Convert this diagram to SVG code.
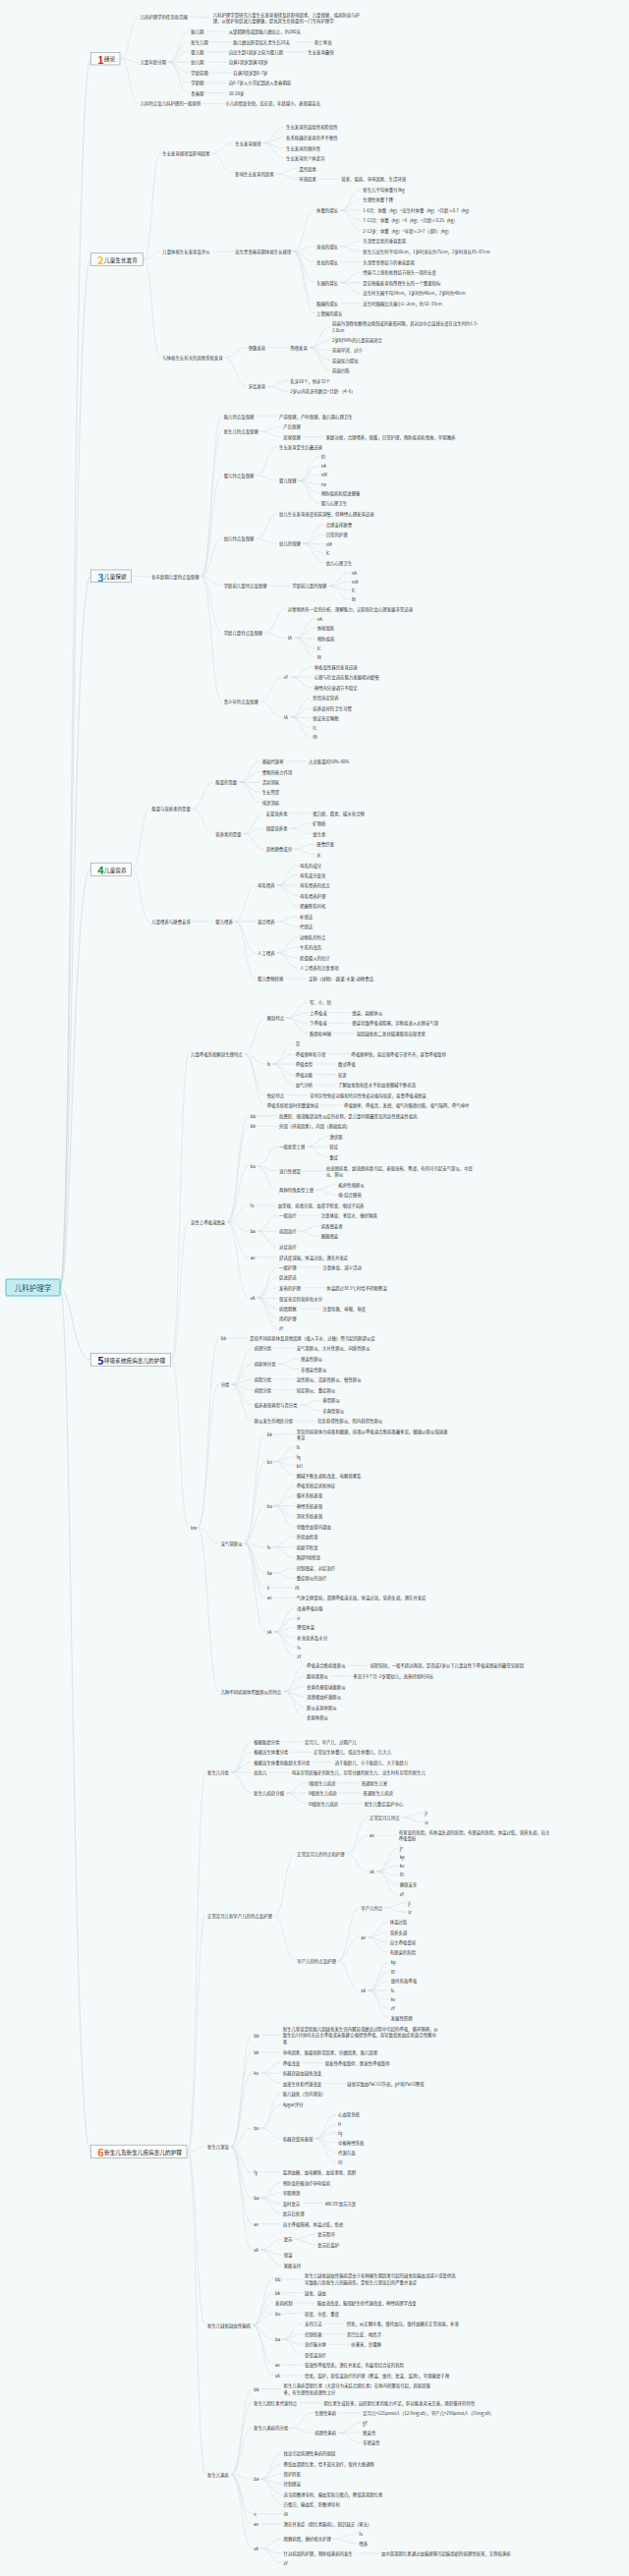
<svg xmlns="http://www.w3.org/2000/svg" width="640" height="2622" viewBox="0 0 640 2622">
<style>
text{font-family:"Noto Sans CJK SC","Noto Sans",sans-serif;font-size:4.4px;fill:#353535;dominant-baseline:central}
#connectors path{fill:none;stroke:#d0dadd;stroke-width:0.5}
#connectors .r{stroke:#c9d4d7;stroke-width:0.6}
.tb rect{fill:#f9fbfc;stroke:#9ea4a7;stroke-width:0.7}
.tt{font-size:5.65px;fill:#2a2a2a}
.num{font-size:11px;font-weight:bold}
</style>
<rect width="640" height="2622" fill="#f4f9fa"/>
<g id="connectors">
<path class="r" d="M61 1310.5C73 1310.5 74 59.7 92.3 59.7"/>
<path class="r" d="M61 1310.5C73 1310.5 74 264 92.3 264"/>
<path class="r" d="M61 1310.5C73 1310.5 74 586.3 92.3 586.3"/>
<path class="r" d="M61 1310.5C73 1310.5 74 885 92.3 885"/>
<path class="r" d="M61 1310.5C73 1310.5 74 1383.8 92.3 1383.8"/>
<path class="r" d="M61 1310.5C73 1310.5 74 2190 92.3 2190"/>
<path d="M123 59.7C132 59.7 132 17.3 140.7 17.3M123 59.7C132 59.7 132 63.3 140.7 63.3M123 59.7C132 59.7 132 105.3 140.7 105.3"/>
<path d="M193.1 17.3C204 17.3 204 18 214.7 18"/>
<path d="M171.1 63.3C181.7 63.3 181.7 32 192.3 32M171.1 63.3C181.7 63.3 181.7 42.7 192.3 42.7M171.1 63.3C181.7 63.3 181.7 52.7 192.3 52.7M171.1 63.3L192.3 63.3M171.1 63.3C181.7 63.3 181.7 74 192.3 74M171.1 63.3C181.7 63.3 181.7 84.3 192.3 84.3M171.1 63.3C181.7 63.3 181.7 94.7 192.3 94.7"/>
<path d="M209.5 32H230.7M213.9 42.7H235.3M301.4 42.7H318M209.5 52.7H230.7M290 52.7H311.3M209.5 63.3H230.7M213.9 74H235.3M209.5 84.3H230.7M209.5 94.7H230.7M206.3 105.3H227.3"/>
<path d="M146.3 264C154.8 264 154.8 156 163.3 156M146.3 264C154.8 264 154.8 256 163.3 256M146.3 264C154.8 264 154.8 364 163.3 364"/>
<path d="M215.7 156C226.5 156 226.5 145.7 237.3 145.7M215.7 156C226.5 156 226.5 177 237.3 177"/>
<path d="M267.7 145.7C278.4 145.7 278.4 129.3 289 129.3M267.7 145.7C278.4 145.7 278.4 140 289 140M267.7 145.7C278.4 145.7 278.4 150.7 289 150.7M267.7 145.7C278.4 145.7 278.4 161.3 289 161.3"/>
<path d="M280.9 177C291.6 177 291.6 171.7 302.3 171.7M280.9 177C291.6 177 291.6 182.3 302.3 182.3M323.9 182.3H345.3"/>
<path d="M215.7 256H237.3"/>
<path d="M298.5 256C309.3 256 309.3 214 320 214M298.5 256C309.3 256 309.3 250.7 320 250.7M298.5 256C309.3 256 309.3 266.7 320 266.7M298.5 256C309.3 256 309.3 287.7 320 287.7M298.5 256C309.3 256 309.3 308.7 320 308.7M298.5 256C309.3 256 309.3 319 320 319"/>
<path d="M346 214C356.7 214 356.7 192.7 367.3 192.7M346 214C356.7 214 356.7 203 367.3 203M346 214H367.3M346 214C356.7 214 356.7 224.3 367.3 224.3M346 214C356.7 214 356.7 235 367.3 235"/>
<path d="M346 250.7C356.7 250.7 356.7 245.3 367.3 245.3M346 250.7C356.7 250.7 356.7 256 367.3 256M346 266.7H367.3"/>
<path d="M346 287.7C356.7 287.7 356.7 277 367.3 277M346 287.7H367.3M346 287.7C356.7 287.7 356.7 298.3 367.3 298.3M346 308.7H367.3"/>
<path d="M228.9 364C239.8 364 239.8 353.7 250.7 353.7M228.9 364C239.8 364 239.8 393.3 250.7 393.3M272.3 353.7H293.3"/>
<path d="M314.9 353.7C325.5 353.7 325.5 332.5 336 332.5M314.9 353.7C325.5 353.7 325.5 346 336 346M314.9 353.7C325.5 353.7 325.5 356.3 336 356.3M314.9 353.7C325.5 353.7 325.5 366.7 336 366.7M314.9 353.7C325.5 353.7 325.5 377.3 336 377.3"/>
<path d="M272.3 393.3C282.8 393.3 282.8 387.7 293.3 387.7M272.3 393.3C282.8 393.3 282.8 398.3 293.3 398.3"/>
<path d="M134.3 586.3C143.3 586.3 143.3 586.7 152.3 586.7"/>
<path d="M204.7 586.7C215.2 586.7 215.2 423.7 225.7 423.7M204.7 586.7C215.2 586.7 215.2 439.3 225.7 439.3M204.7 586.7C215.2 586.7 215.2 484 225.7 484M204.7 586.7C215.2 586.7 215.2 548.3 225.7 548.3M204.7 586.7C215.2 586.7 215.2 596.3 225.7 596.3M204.7 586.7C215.2 586.7 215.2 644 225.7 644M204.7 586.7C215.2 586.7 215.2 714 225.7 714"/>
<path d="M260.5 423.7H282M264.9 439.3C275.6 439.3 275.6 434.3 286.3 434.3M264.9 439.3C275.6 439.3 275.6 444.7 286.3 444.7M307.9 444.7H329.7"/>
<path d="M260.5 484C271.3 484 271.3 455 282 455M260.5 484C271.3 484 271.3 489.3 282 489.3"/>
<path d="M303.6 489.3C314.2 489.3 314.2 465 324.7 465M303.6 489.3C314.2 489.3 314.2 474 324.7 474M303.6 489.3C314.2 489.3 314.2 483.3 324.7 483.3M303.6 489.3C314.2 489.3 314.2 492.7 324.7 492.7M303.6 489.3C314.2 489.3 314.2 502 324.7 502M303.6 489.3C314.2 489.3 314.2 512.3 324.7 512.3"/>
<path d="M260.5 548.3C271.3 548.3 271.3 523.3 282 523.3M260.5 548.3C271.3 548.3 271.3 553.3 282 553.3"/>
<path d="M308 553.3C318.9 553.3 318.9 533.7 329.7 533.7M308 553.3C318.9 553.3 318.9 544.3 329.7 544.3M308 553.3C318.9 553.3 318.9 554 329.7 554M308 553.3C318.9 553.3 318.9 563 329.7 563M308 553.3C318.9 553.3 318.9 573 329.7 573"/>
<path d="M273.7 596.3H295.3M334.5 596.3C345.1 596.3 345.1 582.7 355.7 582.7M334.5 596.3C345.1 596.3 345.1 592 355.7 592M334.5 596.3C345.1 596.3 345.1 600.7 355.7 600.7M334.5 596.3C345.1 596.3 345.1 610 355.7 610"/>
<path d="M269.3 644C280 644 280 620 290.7 620M269.3 644C280 644 280 649.3 290.7 649.3"/>
<path d="M300 649.3C310.4 649.3 310.4 630 320.7 630M300 649.3C310.4 649.3 310.4 639.3 320.7 639.3M300 649.3C310.4 649.3 310.4 650 320.7 650M300 649.3C310.4 649.3 310.4 659.7 320.7 659.7M300 649.3C310.4 649.3 310.4 669 320.7 669"/>
<path d="M264.9 714C275.8 714 275.8 689.3 286.7 689.3M264.9 714C275.8 714 275.8 729.7 286.7 729.7"/>
<path d="M296 689.3C306.9 689.3 306.9 678.7 317.7 678.7M296 689.3H317.7M296 689.3C306.9 689.3 306.9 700 317.7 700"/>
<path d="M296 729.7C306.2 729.7 306.2 710.3 316.3 710.3M296 729.7C306.2 729.7 306.2 720.7 316.3 720.7M296 729.7C306.2 729.7 306.2 731 316.3 731M296 729.7C306.2 729.7 306.2 740.7 316.3 740.7M296 729.7C306.2 729.7 306.2 750 316.3 750"/>
<path d="M134.3 885C143.3 885 143.3 822.7 152.3 822.7M134.3 885C143.3 885 143.3 938 152.3 938"/>
<path d="M195.9 822.7C206.6 822.7 206.6 796.3 217.3 796.3M195.9 822.7C206.6 822.7 206.6 848.7 217.3 848.7"/>
<path d="M243.3 796.3C254 796.3 254 775 264.7 775M243.3 796.3C254 796.3 254 785.7 264.7 785.7M243.3 796.3H264.7M243.3 796.3C254 796.3 254 806.3 264.7 806.3M243.3 796.3C254 796.3 254 817 264.7 817M290.7 775H312"/>
<path d="M247.7 848.7C258.2 848.7 258.2 827.7 268.7 827.7M247.7 848.7C258.2 848.7 258.2 843.3 268.7 843.3M247.7 848.7C258.2 848.7 258.2 864.3 268.7 864.3M294.7 827.7H316.3"/>
<path d="M294.7 843.3C305.5 843.3 305.5 838 316.3 838M294.7 843.3C305.5 843.3 305.5 848.7 316.3 848.7M299.1 864.3C309.7 864.3 309.7 859 320.3 859M299.1 864.3C309.7 864.3 309.7 869.7 320.3 869.7"/>
<path d="M195.9 938H217.3M238.9 938C249.5 938 249.5 901 260 901M238.9 938H260M238.9 938C249.5 938 249.5 969.7 260 969.7M238.9 938C249.5 938 249.5 996 260 996"/>
<path d="M281.6 901C292.3 901 292.3 880.5 303 880.5M281.6 901C292.3 901 292.3 890.7 303 890.7M281.6 901H303M281.6 901C292.3 901 292.3 911.7 303 911.7M281.6 901C292.3 901 292.3 922.3 303 922.3"/>
<path d="M281.6 938C292.3 938 292.3 932.7 303 932.7M281.6 938C292.3 938 292.3 943.3 303 943.3"/>
<path d="M281.6 969.7C292.3 969.7 292.3 953.7 303 953.7M281.6 969.7C292.3 969.7 292.3 964.3 303 964.3M281.6 969.7C292.3 969.7 292.3 975 303 975M281.6 969.7C292.3 969.7 292.3 985.3 303 985.3M290.4 996H312"/>
<path d="M174.3 1383.8C183.2 1383.8 183.2 1072.7 192 1072.7M174.3 1383.8C183.2 1383.8 183.2 1244 192 1244M174.3 1383.8C183.2 1383.8 183.2 1555 192 1555"/>
<path d="M248.8 1072.7C259.3 1072.7 259.3 1036 269.7 1036M248.8 1072.7C259.3 1072.7 259.3 1083 269.7 1083M248.8 1072.7C259.3 1072.7 259.3 1114.7 269.7 1114.7M248.8 1072.7C259.3 1072.7 259.3 1125 269.7 1125"/>
<path d="M291.3 1036C302.2 1036 302.2 1020.3 313 1020.3M291.3 1036C302.2 1036 302.2 1030.7 313 1030.7M291.3 1036C302.2 1036 302.2 1041.3 313 1041.3M291.3 1036C302.2 1036 302.2 1051.7 313 1051.7M334.6 1030.7H356.3M334.6 1041.3H356.3M339 1051.7H360.7"/>
<path d="M277.4 1083C288 1083 288 1062.3 298.7 1062.3M277.4 1083C288 1083 288 1072.7 298.7 1072.7M277.4 1083H298.7M277.4 1083C288 1083 288 1093.7 298.7 1093.7M277.4 1083C288 1083 288 1104.3 298.7 1104.3"/>
<path d="M333.5 1072.7H355.3M320.3 1083H342M320.3 1093.7H342M320.3 1104.3H342M291.3 1114.7H313.3M326.5 1125H348"/>
<path d="M231.2 1244C242 1244 242 1135.7 252.7 1135.7M231.2 1244C242 1244 242 1146.3 252.7 1146.3M231.2 1244C242 1244 242 1187 252.7 1187M231.2 1244C242 1244 242 1227 252.7 1227M231.2 1244C242 1244 242 1253.3 252.7 1253.3M231.2 1244C242 1244 242 1279.7 252.7 1279.7M231.2 1244C242 1244 242 1320.7 252.7 1320.7"/>
<path d="M261.7 1135.7H282M261.7 1146.3H282M261.7 1187C271.9 1187 271.9 1167.3 282 1167.3M261.7 1187C271.9 1187 271.9 1192 282 1192M261.7 1187C271.9 1187 271.9 1211 282 1211"/>
<path d="M312.4 1167.3C322.9 1167.3 322.9 1157 333.3 1157M312.4 1167.3H333.3M312.4 1167.3C322.9 1167.3 322.9 1177.7 333.3 1177.7M308 1192H329.7M321.2 1211C331.8 1211 331.8 1206 342.3 1206M321.2 1211C331.8 1211 331.8 1216.3 342.3 1216.3"/>
<path d="M260.4 1227H280.7M261.7 1253.3C271.9 1253.3 271.9 1237.3 282 1237.3M261.7 1253.3H282M261.7 1253.3C271.9 1253.3 271.9 1269 282 1269M303.6 1237.3H324.7M303.6 1253.3C314.2 1253.3 314.2 1248 324.7 1248M303.6 1253.3C314.2 1253.3 314.2 1258.3 324.7 1258.3"/>
<path d="M261.7 1279.7H282M261.7 1320.7C271.9 1320.7 271.9 1290 282 1290M261.7 1320.7C271.9 1320.7 271.9 1300.3 282 1300.3M261.7 1320.7C271.9 1320.7 271.9 1310.7 282 1310.7M261.7 1320.7C271.9 1320.7 271.9 1321.7 282 1321.7M261.7 1320.7C271.9 1320.7 271.9 1332 282 1332M261.7 1320.7C271.9 1320.7 271.9 1342.3 282 1342.3M261.7 1320.7C271.9 1320.7 271.9 1352.3 282 1352.3"/>
<path d="M303.6 1290H326.3M308 1310.7H330.3M303.6 1332H326.3"/>
<path d="M201 1555C211.9 1555 211.9 1362 222.7 1362M201 1555C211.9 1555 211.9 1409.3 222.7 1409.3M201 1555C211.9 1555 211.9 1570.7 222.7 1570.7M201 1555C211.9 1555 211.9 1721.7 222.7 1721.7M231.7 1362H252.3"/>
<path d="M235.5 1409.3C246.1 1409.3 246.1 1372.3 256.7 1372.3M235.5 1409.3C246.1 1409.3 246.1 1388.3 256.7 1388.3M235.5 1409.3C246.1 1409.3 246.1 1404 256.7 1404M235.5 1409.3C246.1 1409.3 246.1 1414.7 256.7 1414.7M235.5 1409.3C246.1 1409.3 246.1 1430.3 256.7 1430.3M235.5 1409.3C246.1 1409.3 246.1 1446.3 256.7 1446.3"/>
<path d="M278.3 1372.3H299.7M282.7 1388.3C293.4 1388.3 293.4 1383 304 1383M282.7 1388.3C293.4 1388.3 293.4 1393.7 304 1393.7M278.3 1404H299.7M278.3 1414.7H299.7M304.7 1430.3C315.5 1430.3 315.5 1425.3 326.3 1425.3M304.7 1430.3C315.5 1430.3 315.5 1435.7 326.3 1435.7M300.3 1446.3H321.3"/>
<path d="M248.7 1570.7C259.2 1570.7 259.2 1460 269.7 1460M248.7 1570.7C259.2 1570.7 259.2 1487.7 269.7 1487.7M248.7 1570.7C259.2 1570.7 259.2 1532.7 269.7 1532.7M248.7 1570.7C259.2 1570.7 259.2 1574.7 269.7 1574.7M248.7 1570.7C259.2 1570.7 259.2 1601 269.7 1601M248.7 1570.7C259.2 1570.7 259.2 1616 269.7 1616M248.7 1570.7C259.2 1570.7 259.2 1626.3 269.7 1626.3M248.7 1570.7C259.2 1570.7 259.2 1661 269.7 1661"/>
<path d="M278.7 1460H299.7M278.7 1487.7C289.2 1487.7 289.2 1473.3 299.7 1473.3M278.7 1487.7C289.2 1487.7 289.2 1482.7 299.7 1482.7M278.7 1487.7C289.2 1487.7 289.2 1491.7 299.7 1491.7M278.7 1487.7C289.2 1487.7 289.2 1501.7 299.7 1501.7"/>
<path d="M278.7 1532.7C289.2 1532.7 289.2 1512 299.7 1512M278.7 1532.7C289.2 1532.7 289.2 1522.3 299.7 1522.3M278.7 1532.7H299.7M278.7 1532.7C289.2 1532.7 289.2 1543.3 299.7 1543.3M278.7 1532.7C289.2 1532.7 289.2 1554 299.7 1554"/>
<path d="M277.4 1574.7C288.5 1574.7 288.5 1564.3 299.7 1564.3M277.4 1574.7H299.7M277.4 1574.7C288.5 1574.7 288.5 1585.3 299.7 1585.3M278.7 1601C289.2 1601 289.2 1596 299.7 1596M278.7 1601C289.2 1601 289.2 1606.3 299.7 1606.3M276.2 1616H298M278.7 1626.3H299.7"/>
<path d="M278.7 1661C289.5 1661 289.5 1636.7 300.3 1636.7M278.7 1661C289.5 1661 289.5 1646.7 300.3 1646.7M278.7 1661C289.5 1661 289.5 1656.3 300.3 1656.3M278.7 1661C289.5 1661 289.5 1666.7 300.3 1666.7M278.7 1661C289.5 1661 289.5 1676.7 300.3 1676.7M278.7 1661C289.5 1661 289.5 1685.7 300.3 1685.7"/>
<path d="M288.3 1721.7C299.2 1721.7 299.2 1695.3 310 1695.3M288.3 1721.7C299.2 1721.7 299.2 1706 310 1706M288.3 1721.7C299.2 1721.7 299.2 1716.7 310 1716.7M288.3 1721.7C299.2 1721.7 299.2 1727 310 1727M288.3 1721.7C299.2 1721.7 299.2 1737.7 310 1737.7M288.3 1721.7C299.2 1721.7 299.2 1748.3 310 1748.3M353.6 1695.3H374.7M336 1706H357.3"/>
<path d="M191 2190C200 2190 200 1804 209 1804M191 2190C200 2190 200 1950.3 209 1950.3M191 2190C200 2190 200 2185.3 209 2185.3M191 2190C200 2190 200 2366.7 209 2366.7M191 2190C200 2190 200 2518.7 209 2518.7"/>
<path d="M235 1804C245.7 1804 245.7 1772.7 256.3 1772.7M235 1804C245.7 1804 245.7 1783.3 256.3 1783.3M235 1804C245.7 1804 245.7 1793.7 256.3 1793.7M235 1804H256.3M235 1804C245.7 1804 245.7 1825 256.3 1825"/>
<path d="M286.7 1772.7H308M295.5 1783.3H317M317.5 1793.7H338.7M273.5 1804H294.7"/>
<path d="M291.1 1825C301.6 1825 301.6 1814.7 312 1814.7M291.1 1825H312M291.1 1825C301.6 1825 301.6 1835.7 312 1835.7M343.7 1814.7H365.7M345 1825H367.3M346.3 1835.7H368.7"/>
<path d="M279 1950.3C289.7 1950.3 289.7 1886.7 300.3 1886.7M279 1950.3C289.7 1950.3 289.7 1995.7 300.3 1995.7"/>
<path d="M352.7 1886.7C363.4 1886.7 363.4 1850 374 1850M352.7 1886.7C363.4 1886.7 363.4 1868.3 374 1868.3M352.7 1886.7C363.4 1886.7 363.4 1905 374 1905"/>
<path d="M408.8 1850C419.6 1850 419.6 1845.3 430.3 1845.3M408.8 1850C419.6 1850 419.6 1854.7 430.3 1854.7M383 1868.3H403.7"/>
<path d="M383.3 1905C394 1905 394 1881.3 404.7 1881.3M383.3 1905C394 1905 394 1890.3 404.7 1890.3M383.3 1905C394 1905 394 1899.3 404.7 1899.3M383.3 1905C394 1905 394 1908.3 404.7 1908.3M383.3 1905C394 1905 394 1918.3 404.7 1918.3M383.3 1905C394 1905 394 1928 404.7 1928"/>
<path d="M343.9 1995.7C354.6 1995.7 354.6 1941.7 365.3 1941.7M343.9 1995.7C354.6 1995.7 354.6 1972 365.3 1972M343.9 1995.7C354.6 1995.7 354.6 2026 365.3 2026"/>
<path d="M391.3 1941.7C402.3 1941.7 402.3 1937 413.3 1937M391.3 1941.7C402.3 1941.7 402.3 1946.3 413.3 1946.3"/>
<path d="M374.3 1972C384.5 1972 384.5 1956.3 394.7 1956.3M374.3 1972C384.5 1972 384.5 1966.7 394.7 1966.7M374.3 1972C384.5 1972 384.5 1977 394.7 1977M374.3 1972C384.5 1972 384.5 1987.3 394.7 1987.3"/>
<path d="M374.6 2026C385.2 2026 385.2 1997.3 395.7 1997.3M374.6 2026C385.2 2026 385.2 2006.7 395.7 2006.7M374.6 2026C385.2 2026 385.2 2016.3 395.7 2016.3M374.6 2026H395.7M374.6 2026C385.2 2026 385.2 2035.3 395.7 2035.3M374.6 2026C385.2 2026 385.2 2044.3 395.7 2044.3M374.6 2026C385.2 2026 385.2 2054 395.7 2054"/>
<path d="M235 2185.3C245.7 2185.3 245.7 2071.7 256.3 2071.7M235 2185.3C245.7 2185.3 245.7 2089 256.3 2089M235 2185.3C245.7 2185.3 245.7 2110.3 256.3 2110.3M235 2185.3C245.7 2185.3 245.7 2166 256.3 2166M235 2185.3C245.7 2185.3 245.7 2211 256.3 2211M235 2185.3C245.7 2185.3 245.7 2237.3 256.3 2237.3M235 2185.3C245.7 2185.3 245.7 2263.7 256.3 2263.7M235 2185.3C245.7 2185.3 245.7 2289.7 256.3 2289.7"/>
<path d="M265.3 2071.7H285.7M265.3 2089H285.7M265.3 2110.3C275.5 2110.3 275.5 2099.7 285.7 2099.7M265.3 2110.3H285.7M265.3 2110.3C275.5 2110.3 275.5 2120.7 285.7 2120.7M307.3 2099.7H328.7M329.3 2120.7H351.3"/>
<path d="M265.3 2166C275.5 2166 275.5 2131.3 285.7 2131.3M265.3 2166C275.5 2166 275.5 2142 285.7 2142M265.3 2166C275.5 2166 275.5 2176.7 285.7 2176.7"/>
<path d="M320.5 2176.7C331.3 2176.7 331.3 2152.3 342 2152.3M320.5 2176.7C331.3 2176.7 331.3 2162 342 2162M320.5 2176.7C331.3 2176.7 331.3 2171 342 2171M320.5 2176.7C331.3 2176.7 331.3 2181 342 2181M320.5 2176.7C331.3 2176.7 331.3 2191.3 342 2191.3M320.5 2176.7C331.3 2176.7 331.3 2201 342 2201"/>
<path d="M264 2211H285.7M265.3 2237.3C275.5 2237.3 275.5 2221.7 285.7 2221.7M265.3 2237.3C275.5 2237.3 275.5 2232 285.7 2232M265.3 2237.3C275.5 2237.3 275.5 2242.7 285.7 2242.7M265.3 2237.3C275.5 2237.3 275.5 2253 285.7 2253M307.3 2242.7H328.7M265.3 2263.7H285.7"/>
<path d="M265.3 2289.7C276 2289.7 276 2279.3 286.7 2279.3M265.3 2289.7C276 2289.7 276 2295 286.7 2295M265.3 2289.7C276 2289.7 276 2305.7 286.7 2305.7M299.5 2279.3C310.4 2279.3 310.4 2274 321.3 2274M299.5 2279.3C310.4 2279.3 310.4 2284.7 321.3 2284.7"/>
<path d="M257 2366.7C267.5 2366.7 267.5 2320 278 2320M257 2366.7C267.5 2366.7 267.5 2333.7 278 2333.7M257 2366.7C267.5 2366.7 267.5 2344 278 2344M257 2366.7C267.5 2366.7 267.5 2354.7 278 2354.7M257 2366.7C267.5 2366.7 267.5 2381 278 2381M257 2366.7C267.5 2366.7 267.5 2407 278 2407M257 2366.7C267.5 2366.7 267.5 2417.7 278 2417.7"/>
<path d="M287 2320H308M287 2333.7H308M299.6 2344H320.7M287 2354.7H308M287 2407H308M287 2417.7H308"/>
<path d="M287 2381C297.5 2381 297.5 2365 308 2365M287 2381C297.5 2381 297.5 2375.7 308 2375.7M287 2381C297.5 2381 297.5 2386.3 308 2386.3M287 2381C297.5 2381 297.5 2396.7 308 2396.7M329.6 2365H350.7M329.6 2375.7H350.7M334 2386.3H355.3"/>
<path d="M235 2518.7C245.7 2518.7 245.7 2431.7 256.3 2431.7M235 2518.7C245.7 2518.7 245.7 2445.7 256.3 2445.7M235 2518.7C245.7 2518.7 245.7 2471.3 256.3 2471.3M235 2518.7C245.7 2518.7 245.7 2523.3 256.3 2523.3M235 2518.7C245.7 2518.7 245.7 2558.7 256.3 2558.7M235 2518.7C245.7 2518.7 245.7 2569 256.3 2569M235 2518.7C245.7 2518.7 245.7 2593.7 256.3 2593.7"/>
<path d="M265.3 2431.7H286.5M304.3 2445.7H327.6M295.5 2471.3C306.9 2471.3 306.9 2456 318.2 2456M295.5 2471.3C306.9 2471.3 306.9 2476.3 318.2 2476.3M344.2 2456H367.1"/>
<path d="M344.2 2476.3C355.7 2476.3 355.7 2465.7 367.1 2465.7M344.2 2476.3C355.7 2476.3 355.7 2475.7 367.1 2475.7M344.2 2476.3C355.7 2476.3 355.7 2486.3 367.1 2486.3"/>
<path d="M265.3 2523.3C275.9 2523.3 275.9 2497 286.5 2497M265.3 2523.3C275.9 2523.3 275.9 2507.7 286.5 2507.7M265.3 2523.3C275.9 2523.3 275.9 2518 286.5 2518M265.3 2523.3C275.9 2523.3 275.9 2528.3 286.5 2528.3M265.3 2523.3C275.9 2523.3 275.9 2538.7 286.5 2538.7M265.3 2523.3C275.9 2523.3 275.9 2549.3 286.5 2549.3"/>
<path d="M262.8 2558.7H286.5M265.3 2569H286.5M265.3 2593.7C275.9 2593.7 275.9 2584.3 286.5 2584.3M265.3 2593.7C275.9 2593.7 275.9 2599 286.5 2599M265.3 2593.7C275.9 2593.7 275.9 2609 286.5 2609"/>
<path d="M338.9 2584.3C351.1 2584.3 351.1 2578.7 363.3 2578.7M338.9 2584.3C351.1 2584.3 351.1 2588.7 363.3 2588.7M360.9 2599H386"/>
</g>
<g id="root"><rect x="6" y="1302" width="55" height="17" rx="1" fill="#c6ecf1" stroke="#33b3c3" stroke-width="0.8"/><text x="33.5" y="1310.7" text-anchor="middle" style="font-size:7.5px;fill:#15566a">儿科护理学</text></g>
<g id="t1" class="tb"><rect x="92.3" y="53.3" width="29.7" height="12.7"/><text class="num" x="99.3" y="59.9" style="fill:#e8202a">1</text><text class="tt" x="106" y="59.9">绪论</text></g>
<g id="t2" class="tb"><rect x="92.3" y="257.7" width="53" height="12.6"/><text class="num" x="99.3" y="264.2" style="fill:#f3c01d">2</text><text class="tt" x="106" y="264.2">儿童生长发育</text></g>
<g id="t3" class="tb"><rect x="92.3" y="580" width="41" height="12.7"/><text class="num" x="99.3" y="586.5" style="fill:#1d8ad6">3</text><text class="tt" x="106" y="586.5">儿童保健</text></g>
<g id="t4" class="tb"><rect x="92.3" y="878.3" width="41" height="13.4"/><text class="num" x="99.3" y="885.2" style="fill:#1f9a38">4</text><text class="tt" x="106" y="885.2">儿童营养</text></g>
<g id="t5" class="tb"><rect x="92.3" y="1377.3" width="81" height="13"/><text class="num" x="99.3" y="1384" style="fill:#22297a">5</text><text class="tt" x="106" y="1384">呼吸系统疾病患儿的护理</text></g>
<g id="t6" class="tb"><rect x="92.3" y="2183.3" width="97.7" height="13.4"/><text class="num" x="99.3" y="2190.2" style="fill:#f0741e">6</text><text class="tt" x="106" y="2190.2">新生儿及新生儿疾病患儿的护理</text></g>
<g id="s1">
<g id="n1a"><text x="142.7" y="17.3">儿科护理学的任务和范围</text></g>
<g id="n1a1"><text x="216.7" y="14.7">儿科护理学是研究儿童生长发育规律及其影响因素、儿童保健、疾病防治与护</text><text x="216.7" y="21.3">理，以保护和促进儿童健康，提高其生命质量的一门专科护理学</text></g>
<g id="n1b"><text x="142.7" y="63.3">儿童年龄分期</text></g>
<g id="n1b1"><text x="194.3" y="32">胎儿期</text><text x="232.7" y="32">从受精卵形成到胎儿娩出止，约280天</text></g>
<g id="n1b2"><text x="194.3" y="42.7">新生儿期</text><text x="237.3" y="42.7">胎儿娩出脐带结扎至生后28天</text><text x="320" y="42.7">死亡率高</text></g>
<g id="n1b3"><text x="194.3" y="52.7">婴儿期</text><text x="232.7" y="52.7">自出生到1周岁之前为婴儿期</text><text x="313.3" y="52.7">生长发育最快</text></g>
<g id="n1b4"><text x="194.3" y="63.3">幼儿期</text><text x="232.7" y="63.3">自满1周岁到满3周岁</text></g>
<g id="n1b5"><text x="194.3" y="74">学龄前期</text><text x="237.3" y="74">自满3周岁到6-7岁</text></g>
<g id="n1b6"><text x="194.3" y="84.3">学龄期</text><text x="232.7" y="84.3">自6-7岁入小学起到进入青春期前</text></g>
<g id="n1b7"><text x="194.3" y="94.7">青春期</text><text x="232.7" y="94.7">10-20岁</text></g>
<g id="n1c"><text x="142.7" y="105.3">儿科特点及儿科护理的一般原则</text><text x="229.3" y="105.3">小儿病情变化快，反应差，年龄越小，表现越突出</text></g>
</g>
<g id="s2">
<g id="n2a"><text x="165.3" y="156">生长发育规律及影响因素</text></g>
<g id="n2a1"><text x="239.3" y="145.7">生长发育规律</text><text x="291" y="129.3">生长发育的连续性和阶段性</text><text x="291" y="140">各系统器官发育的不平衡性</text><text x="291" y="150.7">生长发育的顺序性</text><text x="291" y="161.3">生长发育的个体差异</text></g>
<g id="n2a2"><text x="239.3" y="177">影响生长发育的因素</text><text x="304.3" y="171.7">遗传因素</text><text x="304.3" y="182.3">环境因素</text><text x="347.3" y="182.3">营养、疾病、孕母因素、生活环境</text></g>
<g id="n2b"><text x="165.3" y="256">儿童体格生长发育及评价</text><text x="239.3" y="256">出生至青春前期体格生长规律</text></g>
<g id="n2b1"><text x="322" y="214">体重的增长</text><text x="369.3" y="192.7">新生儿平均体重为3kg</text><text x="369.3" y="203">生理性体重下降</text><text x="369.3" y="214">1-6月：体重（kg）=出生时体重（kg）+月龄×0.7（kg）</text><text x="369.3" y="224.3">7-12月：体重（kg）=6（kg）+月龄×0.25（kg）</text><text x="369.3" y="235">2-12岁：体重（kg）=年龄×2+7（或8）（kg）</text></g>
<g id="n2b2"><text x="322" y="250.7">身高的增长</text><text x="369.3" y="245.3">头顶至足底的垂直距离</text><text x="369.3" y="256">新生儿出生时平均50cm，1岁时身长约75cm，2岁时身长85~87cm</text></g>
<g id="n2b3"><text x="322" y="266.7">坐高的增长</text><text x="369.3" y="266.7">头顶至坐骨结节的垂直距离</text></g>
<g id="n2b4"><text x="322" y="287.7">头围的增长</text><text x="369.3" y="277">经眉弓上缘和枕骨结节绕头一周的长度</text><text x="369.3" y="287.7">是反映脑发育和颅骨生长的一个重要指标</text><text x="369.3" y="298.3">出生时头围平均34cm，1岁时约46cm，2岁时约48cm</text></g>
<g id="n2b5"><text x="322" y="308.7">胸围的增长</text><text x="369.3" y="308.7">出生时胸围比头围小1~2cm，约32~33cm</text></g>
<g id="n2b6"><text x="322" y="319">上臂围的增长</text></g>
<g id="n2c"><text x="165.3" y="364">与体格生长有关的其他系统发育</text></g>
<g id="n2c1"><text x="252.7" y="353.7">骨骼发育</text><text x="295.3" y="353.7">颅骨发育</text><text x="338" y="329.3">前囟为顶骨和额骨边缘形成的菱形间隙，其对边中点连线长度在出生时约1.5~</text><text x="338" y="335.7">2.0cm</text><text x="338" y="346">2岁时96%的儿童前囟闭合</text><text x="338" y="356.3">前囟早闭、过小</text><text x="338" y="366.7">前囟张力增加</text><text x="338" y="377.3">前囟凹陷</text></g>
<g id="n2c2"><text x="252.7" y="393.3">牙齿发育</text><text x="295.3" y="387.7">乳牙20个，恒牙32个</text><text x="295.3" y="398.3">2岁以内乳牙的数目=月龄-（4~6）</text></g>
</g>
<g id="s3">
<g id="n3"><text x="154.3" y="586.7">各年龄期儿童特点及保健</text></g>
<g id="n3a"><text x="227.7" y="423.7">胎儿特点及保健</text><text x="284" y="423.7">产前保健，产时保健，胎儿期心理卫生</text></g>
<g id="n3b"><text x="227.7" y="439.3">新生儿特点及保健</text><text x="288.3" y="434.3">产后保健</text><text x="288.3" y="444.7">居家保健</text><text x="331.7" y="444.7">家庭访视，合理喂养，保暖，日常护理，预防疾病和事故，早期教养</text></g>
<g id="n3c"><text x="227.7" y="484">婴儿特点及保健</text><text x="284" y="455">生长发育是生后最迅速</text><text x="284" y="489.3">婴儿保健</text><text x="326.7" y="465">fD</text><text x="326.7" y="474">nA</text><text x="326.7" y="483.3">nM</text><text x="326.7" y="492.7">rw</text><text x="326.7" y="502">预防疾病和促进健康</text><text x="326.7" y="512.3">婴儿心理卫生</text></g>
<g id="n3d"><text x="227.7" y="548.3">幼儿特点及保健</text><text x="284" y="523.3">幼儿生长发育速度较前减慢，但神经心理发育迅速</text><text x="284" y="553.3">幼儿的保健</text><text x="331.7" y="533.7">合理安排膳食</text><text x="331.7" y="544.3">日常的护理</text><text x="331.7" y="554">nM</text><text x="331.7" y="563">fC</text><text x="331.7" y="573">幼儿心理卫生</text></g>
<g id="n3e"><text x="227.7" y="596.3">学龄前儿童特点及保健</text><text x="297.3" y="596.3">学龄前儿童的保健</text><text x="357.7" y="582.7">nA</text><text x="357.7" y="592">mA</text><text x="357.7" y="600.7">fC</text><text x="357.7" y="610">fB</text></g>
<g id="n3f"><text x="227.7" y="644">学龄儿童特点及保健</text><text x="292.7" y="620">对事物具有一定的分析、理解能力，认知和社会心理发展非常迅速</text><text x="292.7" y="649.3">tA</text><text x="322.7" y="630">nA</text><text x="322.7" y="639.3">体格锻炼</text><text x="322.7" y="650">预防疾病</text><text x="322.7" y="659.7">fC</text><text x="322.7" y="669">fB</text></g>
<g id="n3g"><text x="227.7" y="714">青少年特点及保健</text><text x="288.7" y="689.3">sY</text><text x="319.7" y="678.7">体格及性器官发育迅速</text><text x="319.7" y="689.3">心理与社会适应能力发展相对缓慢</text><text x="319.7" y="700">神经内分泌调节不稳定</text><text x="288.7" y="729.7">tA</text><text x="318.3" y="710.3">供给充足营养</text><text x="318.3" y="720.7">培养良好的卫生习惯</text><text x="318.3" y="731">保证充足睡眠</text><text x="318.3" y="740.7">fC</text><text x="318.3" y="750">fB</text></g>
</g>
<g id="s4">
<g id="n4a"><text x="154.3" y="822.7">能量与营养素的需要</text></g>
<g id="n4a1"><text x="219.3" y="796.3">能量的需要</text><text x="266.7" y="775">基础代谢率</text><text x="314" y="775">占总能量的50%-60%</text><text x="266.7" y="785.7">食物的热力作用</text><text x="266.7" y="796">活动消耗</text><text x="266.7" y="806.3">生长所需</text><text x="266.7" y="817">排泄消耗</text></g>
<g id="n4a2"><text x="219.3" y="848.7">营养素的需要</text><text x="270.7" y="827.7">宏量营养素</text><text x="318.3" y="827.7">蛋白质、脂类、碳水化合物</text><text x="270.7" y="843.3">微量营养素</text><text x="318.3" y="838">矿物质</text><text x="318.3" y="848.7">维生素</text><text x="270.7" y="864.3">其他膳食成分</text><text x="322.3" y="859">膳食纤维</text><text x="322.3" y="869.7">水</text></g>
<g id="n4b"><text x="154.3" y="938">儿童喂养与膳食安排</text><text x="219.3" y="938">婴儿喂养</text></g>
<g id="n4b1"><text x="262" y="901">母乳喂养</text><text x="305" y="880.5">母乳的成分</text><text x="305" y="890.7">母乳成分变化</text><text x="305" y="901">母乳喂养的优点</text><text x="305" y="911.7">母乳喂养护理</text><text x="305" y="922.3">把握断乳时机</text></g>
<g id="n4b2"><text x="262" y="938">混合喂养</text><text x="305" y="932.7">补授法</text><text x="305" y="943.3">代授法</text></g>
<g id="n4b3"><text x="262" y="969.7">人工喂养</text><text x="305" y="953.7">动物乳的特点</text><text x="305" y="964.3">牛乳的改造</text><text x="305" y="975">奶量摄入的估计</text><text x="305" y="985.3">人工喂养的注意事项</text></g>
<g id="n4b4"><text x="262" y="996">婴儿食物转换</text><text x="314" y="996">淀粉（谷物）-蔬菜-水果-动物食品</text></g>
</g>
<g id="s5">
<g id="n5a"><text x="194" y="1072.7">儿童呼吸系统解剖生理特点</text></g>
<g id="n5a1"><text x="271.7" y="1036">解剖特点</text><text x="315" y="1020.3">窄、小、短</text><text x="315" y="1030.7">上呼吸道</text><text x="358.3" y="1030.7">感染、扁桃体炎</text><text x="315" y="1041.3">下呼吸道</text><text x="358.3" y="1041.3">感染导致呼吸道阻塞，异物易进入右侧支气管</text><text x="315" y="1051.7">胸廓和纵隔</text><text x="362.7" y="1051.7">易因缺氧和二氧化碳潴留而出现青紫</text></g>
<g id="n5a2"><text x="271.7" y="1083">fx</text><text x="300.7" y="1062.3">苋</text><text x="300.7" y="1072.7">呼吸频率和节律</text><text x="357.3" y="1072.7">呼吸频率快，易出现呼吸节律不齐，甚至呼吸暂停</text><text x="300.7" y="1083">呼吸类型</text><text x="344" y="1083">腹式呼吸</text><text x="300.7" y="1093.7">呼吸功能</text><text x="344" y="1093.7">较差</text><text x="300.7" y="1104.3">血气分析</text><text x="344" y="1104.3">了解血氧饱和度水平和血液酸碱平衡状态</text></g>
<g id="n5a3"><text x="271.7" y="1114.7">免疫特点</text><text x="315.3" y="1114.7">非特异性免疫功能和特异性免疫功能均较差，易患呼吸道感染</text></g>
<g id="n5a4"><text x="271.7" y="1125">呼吸系统检查时的重要体征</text><text x="350" y="1125">呼吸频率、呼吸音、发绀、吸气时胸廓凹陷、吸气喘鸣、呼气呻吟</text></g>
<g id="n5b"><text x="194" y="1244">急性上呼吸道感染</text></g>
<g id="n5b1"><text x="254.7" y="1135.7">bb</text><text x="284" y="1135.7">指鼻腔、咽或喉部急性炎症的总称，是儿童时期最常见的急性感染性疾病</text><text x="254.7" y="1146.3">bk</text><text x="284" y="1146.3">外因（环境因素），内因（基础疾病）</text></g>
<g id="n5b2"><text x="254.7" y="1187">bo</text><text x="284" y="1167.3">一般类型上感</text><text x="335.3" y="1157">潜伏期</text><text x="335.3" y="1167.3">轻症</text><text x="335.3" y="1177.7">重症</text><text x="284" y="1192">流行性感冒</text><text x="331.7" y="1188.7">由流感病毒、副流感病毒引起，表现高热、寒战，有的可引起支气管炎、中耳</text><text x="331.7" y="1195.3">炎、肺炎</text><text x="284" y="1211">两种特殊类型上感</text><text x="344.3" y="1206">疱疹性咽峡炎</text><text x="344.3" y="1216.3">咽-结合膜热</text></g>
<g id="n5b3"><text x="254.7" y="1227">fv</text><text x="282.7" y="1227">血常规、病毒分离、血清学检查、咽拭子培养</text></g>
<g id="n5b4"><text x="254.7" y="1253.3">ba</text><text x="284" y="1237.3">一般治疗</text><text x="326.7" y="1237.3">注意休息、多饮水、做好隔离</text><text x="284" y="1253.3">病因治疗</text><text x="326.7" y="1248">病毒感染者</text><text x="326.7" y="1258.3">细菌感染</text><text x="284" y="1269">对症治疗</text></g>
<g id="n5b5"><text x="254.7" y="1279.7">av</text><text x="284" y="1279.7">舒适度减弱，体温过高，潜在并发症</text></g>
<g id="n5b6"><text x="254.7" y="1320.7">sA</text><text x="284" y="1290">一般护理</text><text x="328.3" y="1290">注意休息、减少活动</text><text x="284" y="1300.3">促进舒适</text><text x="284" y="1310.7">发热的护理</text><text x="332.3" y="1310.7">体温超过38.5℃时给予药物降温</text><text x="284" y="1321.7">保证充足的营养和水分</text><text x="284" y="1332">病情观察</text><text x="328.3" y="1332">注意惊厥、咳嗽、热度</text><text x="284" y="1342.3">用药护理</text><text x="284" y="1352.3">zY</text></g>
<g id="n5c"><text x="194" y="1555">bw</text></g>
<g id="n5c1"><text x="224.7" y="1362">bb</text><text x="254.3" y="1362">是指不同病原体及其他因素（吸入羊水、过敏）所引起的肺部炎症</text></g>
<g id="n5c2"><text x="224.7" y="1409.3">分类</text><text x="258.7" y="1372.3">病理分类</text><text x="301.7" y="1372.3">支气管肺炎、大叶性肺炎、间质性肺炎</text><text x="258.7" y="1388.3">病原体分类</text><text x="306" y="1383">感染性肺炎</text><text x="306" y="1393.7">非感染性肺炎</text><text x="258.7" y="1404">病程分类</text><text x="301.7" y="1404">急性肺炎、迁延性肺炎、慢性肺炎</text><text x="258.7" y="1414.7">病情分类</text><text x="301.7" y="1414.7">轻症肺炎、重症肺炎</text><text x="258.7" y="1430.3">临床表现典型与否分类</text><text x="328.3" y="1425.3">典型肺炎</text><text x="328.3" y="1435.7">非典型肺炎</text><text x="258.7" y="1446.3">肺炎发生的地区分类</text><text x="323.3" y="1446.3">社区获得性肺炎、院内获得性肺炎</text></g>
<g id="n5c3"><text x="224.7" y="1570.7">支气管肺炎</text><text x="271.7" y="1460">bk</text><text x="301.7" y="1456.7">常见的病原体为病毒和细菌，病毒以呼吸道合胞病毒最多见，细菌以肺炎链球菌</text><text x="301.7" y="1463.3">多见</text><text x="271.7" y="1487.7">bn</text><text x="301.7" y="1473.3">fs</text><text x="301.7" y="1482.7">fq</text><text x="301.7" y="1491.7">bO</text><text x="301.7" y="1501.7">酸碱平衡失调和改变、电解质紊乱</text><text x="271.7" y="1532.7">bo</text><text x="301.7" y="1512">呼吸系统症状和体征</text><text x="301.7" y="1522.3">循环系统表现</text><text x="301.7" y="1532.7">神经系统表现</text><text x="301.7" y="1543.3">消化系统表现</text><text x="301.7" y="1554">弥散性血管内凝血</text><text x="271.7" y="1574.7">fv</text><text x="301.7" y="1564.3">外周血检查</text><text x="301.7" y="1574.7">病原学检查</text><text x="301.7" y="1585.3">胸部X线检查</text><text x="271.7" y="1601">ba</text><text x="301.7" y="1596">控制感染、对症治疗</text><text x="301.7" y="1606.3">重症肺炎的治疗</text><text x="271.7" y="1616">li</text><text x="300" y="1616">iN</text><text x="271.7" y="1626.3">av</text><text x="301.7" y="1626.3">气体交换受损，清理呼吸道无效，体温过高，营养失调，潜在并发症</text><text x="271.7" y="1661">sA</text><text x="302.3" y="1636.7">改善呼吸功能</text><text x="302.3" y="1646.7">ir</text><text x="302.3" y="1656.3">降低体温</text><text x="302.3" y="1666.7">补充营养及水分</text><text x="302.3" y="1676.7">fs</text><text x="302.3" y="1685.7">zY</text></g>
<g id="n5c4"><text x="224.7" y="1721.7">几种不同病原体所致肺炎的特点</text><text x="312" y="1695.3">呼吸道合胞病毒肺炎</text><text x="376.7" y="1695.3">病程较短，一般不超过两周，是造成2岁以下儿童急性下呼吸道感染的最常见原因</text><text x="312" y="1706">腺病毒肺炎</text><text x="359.3" y="1706">多见于6个月~2岁婴幼儿，高热持续时间长</text><text x="312" y="1716.7">金黄色葡萄球菌肺炎</text><text x="312" y="1727">流感嗜血杆菌肺炎</text><text x="312" y="1737.7">肺炎支原体肺炎</text><text x="312" y="1748.3">衣原体肺炎</text></g>
</g>
<g id="s6">
<g id="n6a"><text x="211" y="1804">新生儿分类</text><text x="258.3" y="1772.7">根据胎龄分类</text><text x="310" y="1772.7">足月儿、早产儿、过期产儿</text><text x="258.3" y="1783.3">根据出生体重分类</text><text x="319" y="1783.3">正常出生体重儿、低出生体重儿、巨大儿</text><text x="258.3" y="1793.7">根据出生体重和胎龄关系分类</text><text x="340.7" y="1793.7">适于胎龄儿、小于胎龄儿、大于胎龄儿</text><text x="258.3" y="1804">高危儿</text><text x="296.7" y="1804">母亲异常妊娠史的新生儿、异常分娩的新生儿、出生时有异常的新生儿</text><text x="258.3" y="1825">新生儿病房分级</text><text x="314" y="1814.7">I级新生儿病房</text><text x="367.7" y="1814.7">普通新生儿室</text><text x="314" y="1825">II级新生儿病房</text><text x="369.3" y="1825">普通新生儿病房</text><text x="314" y="1835.7">III级新生儿病房</text><text x="370.7" y="1835.7">新生儿重症监护中心</text></g>
<g id="n6b"><text x="211" y="1950.3">正常足月儿和早产儿的特点及护理</text></g>
<g id="n6b1"><text x="302.3" y="1886.7">正常足月儿的特点和护理</text><text x="376" y="1850">正常足月儿特点</text><text x="432.3" y="1845.3">jl</text><text x="432.3" y="1854.7">lz</text><text x="376" y="1868.3">av</text><text x="405.7" y="1864.7">有窒息的危险，有体温失调的危险，有感染的危险，体温过低，营养失调，自主</text><text x="405.7" y="1871.3">呼吸受损</text><text x="376" y="1905">sA</text><text x="406.7" y="1881.3">jr</text><text x="406.7" y="1890.3">kp</text><text x="406.7" y="1899.3">kv</text><text x="406.7" y="1908.3">fD</text><text x="406.7" y="1918.3">确保安全</text><text x="406.7" y="1928">zY</text></g>
<g id="n6b2"><text x="302.3" y="1995.7">早产儿的特点及护理</text><text x="367.3" y="1941.7">早产儿特点</text><text x="415.3" y="1937">jl</text><text x="415.3" y="1946.3">lz</text><text x="367.3" y="1972">av</text><text x="396.7" y="1956.3">体温过低</text><text x="396.7" y="1966.7">营养失调</text><text x="396.7" y="1977">自主呼吸受损</text><text x="396.7" y="1987.3">有感染的危险</text><text x="367.3" y="2026">sA</text><text x="397.7" y="1997.3">kp</text><text x="397.7" y="2006.7">fD</text><text x="397.7" y="2016.3">维持有效呼吸</text><text x="397.7" y="2026">fs</text><text x="397.7" y="2035.3">kv</text><text x="397.7" y="2044.3">zY</text><text x="397.7" y="2054">发展性照顾</text></g>
<g id="n6c"><text x="211" y="2185.3">新生儿窒息</text><text x="258.3" y="2071.7">bb</text><text x="287.7" y="2064.7">新生儿窒息是指胎儿因缺氧发生宫内窘迫或娩出过程中引起的呼吸、循环障碍，以</text><text x="287.7" y="2071.3">致生后1分钟内无自主呼吸或未能建立规律性呼吸，而导致低氧血症和混合性酸中</text><text x="287.7" y="2078.3">毒</text><text x="258.3" y="2089">bk</text><text x="287.7" y="2089">孕母因素、胎盘和脐带因素、分娩因素、胎儿因素</text><text x="258.3" y="2110.3">kx</text><text x="287.7" y="2099.7">呼吸改变</text><text x="330.7" y="2099.7">原发性呼吸暂停、继发性呼吸暂停</text><text x="287.7" y="2110.3">各器官缺血缺氧改变</text><text x="287.7" y="2120.7">血液生化和代谢改变</text><text x="353.3" y="2120.7">缺氧导致血PaCO2升高，pH和PaO2降低</text><text x="258.3" y="2166">bo</text><text x="287.7" y="2131.3">胎儿缺氧（宫内窒息）</text><text x="287.7" y="2142">Apgar评分</text><text x="287.7" y="2176.7">各器官受损表现</text><text x="344" y="2152.3">心血管系统</text><text x="344" y="2162">fr</text><text x="344" y="2171">fq</text><text x="344" y="2181">中枢神经系统</text><text x="344" y="2191.3">代谢方面</text><text x="344" y="2201">fD</text><text x="258.3" y="2211">fy</text><text x="287.7" y="2211">监测血糖、血电解质、血尿素氮、肌酐</text><text x="258.3" y="2237.3">ba</text><text x="287.7" y="2221.7">预防及积极治疗孕母疾病</text><text x="287.7" y="2232">早期预测</text><text x="287.7" y="2242.7">及时复苏</text><text x="330.7" y="2242.7">ABCDE复苏方案</text><text x="287.7" y="2253">复苏后处理</text><text x="258.3" y="2263.7">av</text><text x="287.7" y="2263.7">自主呼吸障碍，体温过低，焦虑</text><text x="258.3" y="2289.7">sA</text><text x="288.7" y="2279.3">复苏</text><text x="323.3" y="2274">复苏程序</text><text x="323.3" y="2284.7">复苏后监护</text><text x="288.7" y="2295">保温</text><text x="288.7" y="2305.7">家庭支持</text></g>
<g id="n6d"><text x="211" y="2366.7">新生儿缺氧缺血性脑病</text><text x="280" y="2320">bb</text><text x="310" y="2316.3">新生儿缺氧缺血性脑病是由于各种围生期因素引起的缺氧和脑血流减少或暂停而</text><text x="310" y="2323">导致胎儿和新生儿的脑损伤，是新生儿窒息后的严重并发症</text><text x="280" y="2333.7">bk</text><text x="310" y="2333.7">缺氧、缺血</text><text x="280" y="2344">发病机制</text><text x="322.7" y="2344">脑血流改变，脑组织生化代谢改变，神经病理学改变</text><text x="280" y="2354.7">bo</text><text x="310" y="2354.7">轻度、中度、重度</text><text x="280" y="2381">ba</text><text x="310" y="2365">支持方法</text><text x="352.7" y="2365">供氧，纠正酸中毒，维持血压，维持血糖在正常高值，补液</text><text x="310" y="2375.7">控制惊厥</text><text x="352.7" y="2375.7">苯巴比妥、地西泮</text><text x="310" y="2386.3">治疗脑水肿</text><text x="357.3" y="2386.3">呋塞米、甘露醇</text><text x="310" y="2396.7">亚低温治疗</text><text x="280" y="2407">av</text><text x="310" y="2407">低效性呼吸型态，潜在并发症，有废用综合征的危险</text><text x="280" y="2417.7">sA</text><text x="310" y="2417.7">给氧，监护，亚低温治疗的护理（降温、维持、复温、监测），早期康复干预</text></g>
<g id="n6e"><text x="211" y="2518.7">新生儿黄疸</text><text x="258.3" y="2431.7">bb</text><text x="288.5" y="2428.3">新生儿黄疸是胆红素（大部分为未结合胆红素）在体内积聚而引起，其原因很</text><text x="288.5" y="2435">多，有生理性和病理性之分</text><text x="258.3" y="2445.7">新生儿胆红素代谢特点</text><text x="329.6" y="2445.7">胆红素生成较多，运转胆红素的能力不足，肝功能发育未完善，肠肝循环的特性</text><text x="258.3" y="2471.3">新生儿黄疸的分类</text><text x="320.2" y="2456">生理性黄疸</text><text x="369.1" y="2456">足月儿&lt;221μmol/L（12.9mg/dl），早产儿&lt;256μmol/L（15mg/dl）</text><text x="320.2" y="2476.3">病理性黄疸</text><text x="369.1" y="2465.7">gY</text><text x="369.1" y="2475.7">感染性</text><text x="369.1" y="2486.3">非感染性</text><text x="258.3" y="2523.3">ba</text><text x="288.5" y="2497">找出引起病理性黄疸的原因</text><text x="288.5" y="2507.7">降低血清胆红素，给予蓝光治疗，保持大便通畅</text><text x="288.5" y="2518">保护肝脏</text><text x="288.5" y="2528.3">控制感染</text><text x="288.5" y="2538.7">适当用酶诱导剂、输血浆和白蛋白，降低游离胆红素</text><text x="288.5" y="2549.3">白蛋白、输血浆、肝酶诱导剂</text><text x="258.3" y="2558.7">li</text><text x="288.5" y="2558.7">iN</text><text x="258.3" y="2569">av</text><text x="288.5" y="2569">潜在并发症（胆红素脑病），知识缺乏（家长）</text><text x="258.3" y="2593.7">sA</text><text x="288.5" y="2584.3">观察病情，做好相关护理</text><text x="365.3" y="2578.7">fs</text><text x="365.3" y="2588.7">喂养</text><text x="288.5" y="2599">针对病因的护理，预防核黄疸的发生</text><text x="388" y="2599">血中游离胆红素通过血脑屏障引起脑组织的病理性损害，又称核黄疸</text><text x="288.5" y="2609">zY</text></g>
</g>
</svg>
